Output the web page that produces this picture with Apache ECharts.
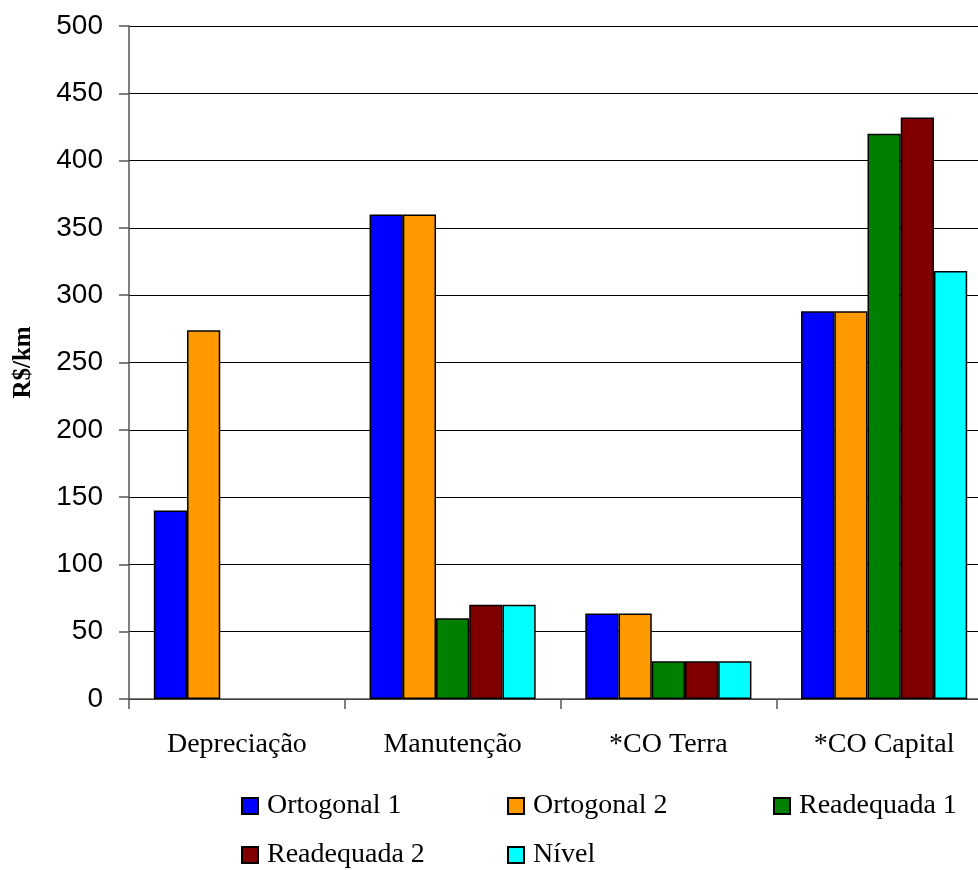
<!DOCTYPE html>
<html>
<head>
<meta charset="utf-8">
<script src="https://cdn.jsdelivr.net/npm/echarts@6/dist/echarts.min.js"></script>
<style>
  html, body { margin: 0; padding: 0; background: #fff; }
  #chart { width: 978px; height: 870px; }
</style>
</head>
<body>
<div id="chart"></div>
<script>
// Cost categories (R$/km) per road layout
const categories = ['Depreciação', 'Manutenção', '*CO Terra', '*CO Capital'];
const seriesNames = ['Ortogonal 1', 'Ortogonal 2', 'Readequada 1', 'Readequada 2', 'Nível'];
const ortogonal1 = [140, 360, 63.5, 288];
const ortogonal2 = [274, 360, 63.5, 288];
const readequada1 = [null, 60, 28, 420];
const readequada2 = [null, 70, 28, 432];
const nivel = [null, 70, 28, 318];
const yTicks = [0, 50, 100, 150, 200, 250, 300, 350, 400, 450, 500];

const values = [ortogonal1, ortogonal2, readequada1, readequada2, nivel];
const colors = ['#0000FF', '#FF9900', '#008000', '#800000', '#00FFFF'];

const serif = '"Liberation Serif", "Times New Roman", serif';
const sans = '"Liberation Sans", Arial, sans-serif';

// one legend block per entry so the two-row layout can be placed freely
const legendPos = [
  { left: 241, top: 792 },
  { left: 507, top: 792 },
  { left: 773, top: 792 },
  { left: 241, top: 841 },
  { left: 507, top: 841 }
];

const chart = echarts.init(document.getElementById('chart'), null, { renderer: 'canvas' });

chart.setOption({
  animation: false,
  backgroundColor: '#fff',
  grid: {
    left: 129, top: 26, right: -14, bottom: 171,
    containLabel: false,
    outerBoundsMode: 'none'
  },
  legend: seriesNames.map((name, i) => ({
    data: [name],
    left: legendPos[i].left,
    top: legendPos[i].top,
    padding: 0,
    itemWidth: 16,
    itemHeight: 16,
    icon: 'rect',
    selectedMode: false,
    textStyle: { fontFamily: serif, fontSize: 28, color: '#000', padding: [0, 0, 0, 4] }
  })),
  xAxis: {
    type: 'category',
    data: categories,
    boundaryGap: true,
    axisLine: { lineStyle: { color: '#555', width: 1.5 } },
    axisTick: { show: true, length: 10, alignWithLabel: false, lineStyle: { color: '#555', width: 1.5 } },
    axisLabel: { fontFamily: serif, fontSize: 28, color: '#000', margin: 32, interval: 0 },
    splitLine: { show: false }
  },
  yAxis: {
    type: 'value',
    min: yTicks[0],
    max: yTicks[yTicks.length - 1],
    interval: yTicks[1] - yTicks[0],
    name: 'R$/km',
    nameLocation: 'middle',
    nameRotate: 90,
    nameGap: 93,
    nameTextStyle: { fontFamily: serif, fontSize: 25, fontWeight: 'bold', color: '#000' },
    axisLine: { show: true, lineStyle: { color: '#555', width: 1.5 } },
    axisTick: { show: true, length: 10, lineStyle: { color: '#555', width: 1.5 } },
    axisLabel: { fontFamily: sans, fontSize: 28, color: '#000', margin: 26 },
    splitLine: { show: true, lineStyle: { color: '#000', width: 1 } }
  },
  series: seriesNames.map((name, i) => ({
    name: name,
    type: 'bar',
    data: values[i],
    barGap: '0%',
    barCategoryGap: '23%',
    itemStyle: { color: colors[i], borderColor: '#000', borderWidth: 1.5 }
  }))
});
</script>
</body>
</html>
